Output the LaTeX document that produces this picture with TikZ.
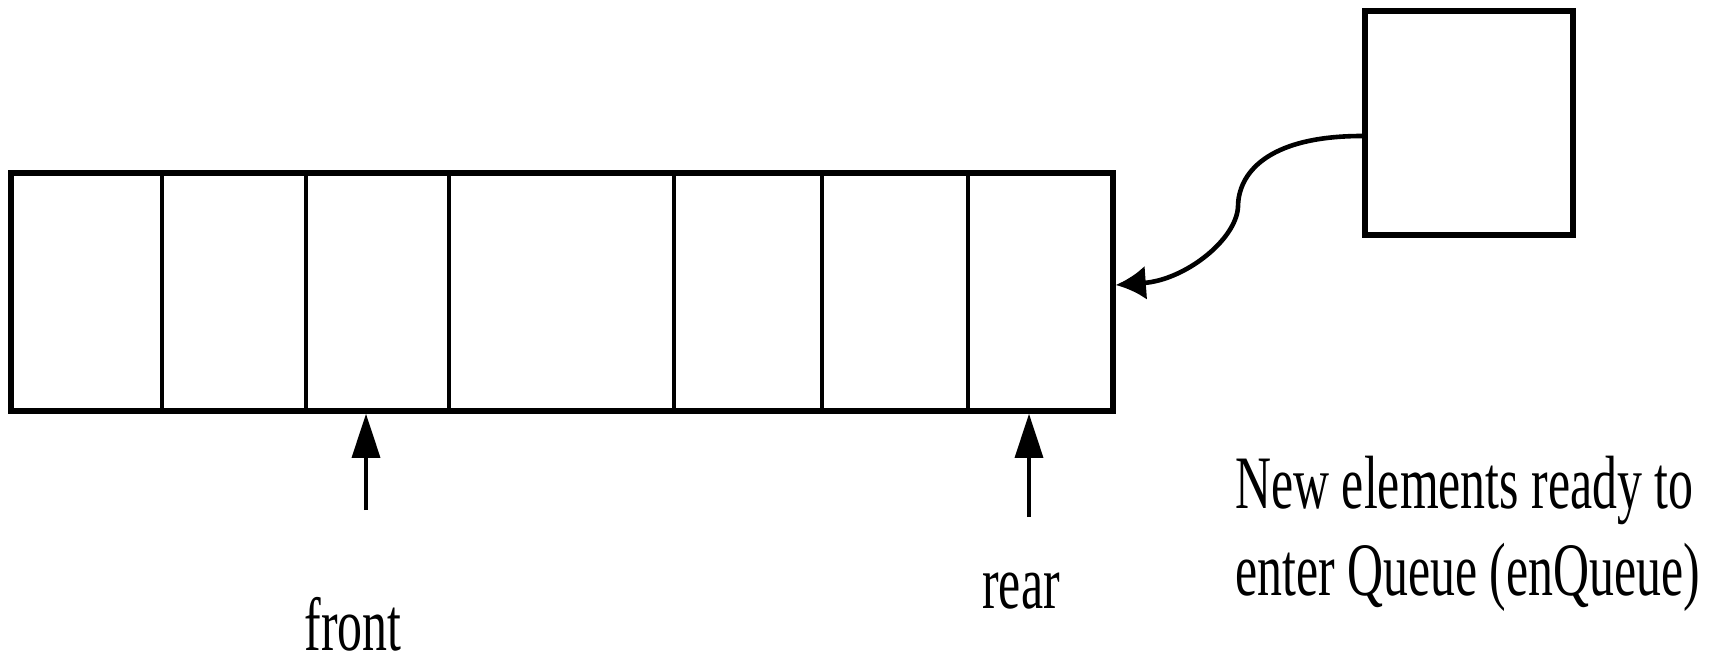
\documentclass[tikz,border=0pt]{standalone}
\usepackage{fontspec}
\setmainfont{Liberation Serif}[FakeStretch=0.66]
\usetikzlibrary{arrows.meta,fit}
\begin{document}
\begin{tikzpicture}[x=0.5pt,y=-0.5pt,
  outline/.style={draw, line width=2.8pt, inner sep=0pt},
  divider/.style={line width=2pt},
  ptr/.style={line width=1.7pt, -{Triangle[length=22pt,width=14pt]}},
  feed/.style={line width=2.3pt, -{Latex[length=15pt,width=17pt]}},
  lbl/.style={font=\fontsize{37.75}{43.5}\selectfont, inner sep=0pt, anchor=base}]
\useasboundingbox (0,0) rectangle (1719,663);
% queue
\coordinate (qnw) at (11,173);
\coordinate (qse) at (1113,411);
\node[outline, fit=(qnw)(qse)] (queue) {};
\foreach \x in {162,306,449,674,822,968}{
  \coordinate (dtop) at (\x,173);
  \draw[divider] (dtop) -- (dtop |- queue.south);
}
% new element box
\coordinate (bnw) at (1365,11);
\coordinate (bse) at (1573,235);
\node[outline, fit=(bnw)(bse)] (newbox) {};
% feed curve
\coordinate (bend) at (1238,207);
\draw[feed] ([yshift=-6.5pt]newbox.west) .. controls (1265,136) and (1238,175) .. (bend)
  .. controls (1236,240) and (1185,280) .. ([yshift=3.5pt]queue.east);
% labels
\node[lbl] (front) at (353,650) {front};
\node[lbl] (rear) at (1021,608) {rear};
\node[lbl, anchor=base west] (new1) at (1235,508) {New elements ready to};
\node[lbl, anchor=base west] (new2) at (1235,595) {enter Queue (enQueue)};
% pointers
\coordinate (ftail) at (366,510);
\coordinate (rtail) at (1029,517);
\draw[ptr] (ftail) -- (ftail |- queue.south);
\draw[ptr] (rtail) -- (rtail |- queue.south);
\end{tikzpicture}
\end{document}
